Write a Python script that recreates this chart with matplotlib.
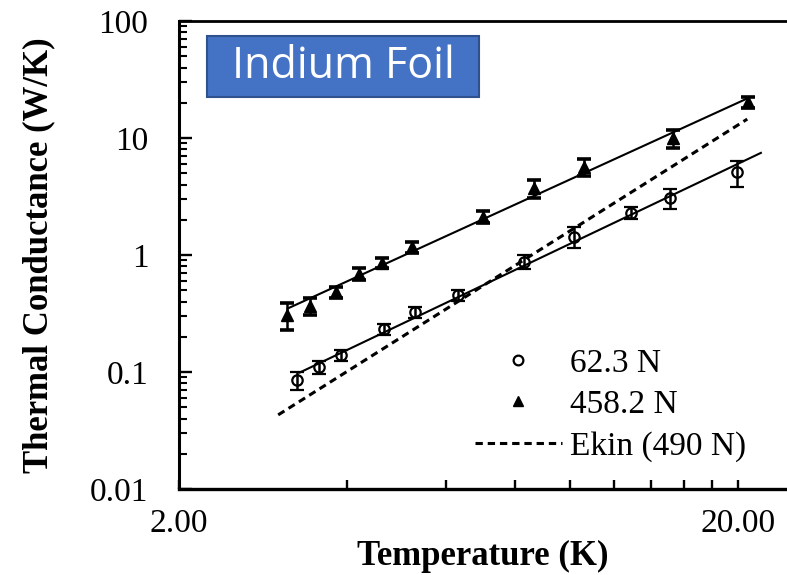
import numpy as np
import matplotlib.pyplot as plt
from matplotlib.lines import Line2D
from matplotlib.patches import Rectangle
from matplotlib.ticker import FixedLocator, FixedFormatter, NullFormatter

plt.rcParams['font.family'] = ['Liberation Serif', 'DejaVu Serif']

# 62.3 N
t_low = [3.25, 3.56, 3.90, 4.65, 5.29, 6.31, 8.28, 10.2, 12.9, 15.1, 19.9]
g_low = [0.085, 0.110, 0.139, 0.231, 0.323, 0.451, 0.879, 1.43, 2.30, 3.08, 5.1]
e_low = [0.015, 0.013, 0.015, 0.025, 0.035, 0.05, 0.12, 0.29, 0.28, 0.6, 1.3]

# 458.2 N
t_high = [3.12, 3.43, 3.82, 4.20, 4.61, 5.22, 7.00, 8.63, 10.6, 15.3, 20.9]
g_high = [0.31, 0.37, 0.48, 0.69, 0.86, 1.16, 2.12, 3.75, 5.67, 10.0, 20.3]
e_high = [0.08, 0.06, 0.055, 0.08, 0.09, 0.13, 0.25, 0.65, 0.9, 1.8, 2.2]

# power-law fit lines (end points)
fit_low_t = [3.29, 22.0]
fit_low_g = [0.099, 7.46]
fit_high_t = [3.13, 20.9]
fit_high_g = [0.349, 22.0]

# Ekin (490 N)
ekin_t = [3.01, 20.8]
ekin_g = [0.043, 14.5]

dash = (0, (2.4, 1.6))

fig = plt.figure(figsize=(7.87, 5.75), dpi=100)
ax = fig.add_axes([179/787, 86/575, 608/787, 468/575])
ax.set_xscale('log')
ax.set_yscale('log')
ax.set_xlim(2, 24.5)
ax.set_ylim(0.01, 100)

# fit lines
ax.plot(fit_low_t, fit_low_g, color='black', lw=1.5)
ax.plot(fit_high_t, fit_high_g, color='black', lw=1.5)
ax.plot(ekin_t, ekin_g, color='black', lw=2.2, ls=dash)

# data with error bars
ax.errorbar(t_low, g_low, yerr=e_low, fmt='o', ms=7.5, mfc='none', mec='black',
            mew=1.6, ecolor='black', elinewidth=1.8, capsize=5, capthick=2.6)
ax.errorbar(t_high, g_high, yerr=e_high, fmt='^', ms=9, mfc='black', mec='black',
            ecolor='black', elinewidth=1.8, capsize=5, capthick=2.6)

# axes styling
ax.spines['right'].set_visible(False)
ax.spines['left'].set_linewidth(2.2)
ax.spines['bottom'].set_linewidth(2.4)
ax.spines['top'].set_linewidth(2.0)

ax.xaxis.set_major_locator(FixedLocator([2, 20]))
ax.xaxis.set_major_formatter(FixedFormatter(['2.00', '20.00']))
ax.xaxis.set_minor_locator(FixedLocator([4, 6, 8, 10, 12, 14, 16, 18]))
ax.xaxis.set_minor_formatter(NullFormatter())
ax.tick_params(axis='x', which='both', direction='in', length=6.5, width=1.7,
               labelsize=24, pad=14, top=False)

ax.yaxis.set_major_locator(FixedLocator([0.01, 0.1, 1, 10, 100]))
ax.yaxis.set_major_formatter(FixedFormatter(['0.01', '0.1', '1', '10', '100']))
ax.tick_params(axis='y', which='major', direction='in', length=9, width=1.7,
               labelsize=24, pad=22, right=False)
ax.tick_params(axis='y', which='minor', direction='in', length=6, width=1.5, right=False)

ax.set_xlabel('Temperature (K)', fontsize=25, fontweight='bold', labelpad=1)
ax.set_ylabel('Thermal Conductance (W/K)', fontsize=25, fontweight='bold', labelpad=25)

# legend
handles = [
    Line2D([], [], ls='none', marker='o', ms=7, mfc='none', mec='black', mew=1.6),
    Line2D([], [], ls='none', marker='^', ms=7.5, mfc='black', mec='black'),
    Line2D([], [], color='black', lw=2.2, ls=dash),
]
labels = ['62.3 N', '458.2 N', 'Ekin (490 N)']
ax.legend(handles, labels, loc='upper left', bbox_to_anchor=(475/787, 1 - 348/575),
          bbox_transform=fig.transFigure, frameon=False, fontsize=24,
          handlelength=2.6, handletextpad=0.25, labelspacing=0.33,
          borderpad=0, borderaxespad=0)

# title box
fig.add_artist(Rectangle((207/787, 1 - 97/575), 272/787, 61/575,
                         transform=fig.transFigure, fc='#4472C4', ec='#2F528F', lw=1.5))
fig.text(343/787, 1 - 67/575, 'Indium Foil', family='Open Sans', fontsize=31,
         color='white', ha='center', va='center')

fig.savefig('out.png', dpi=100)
